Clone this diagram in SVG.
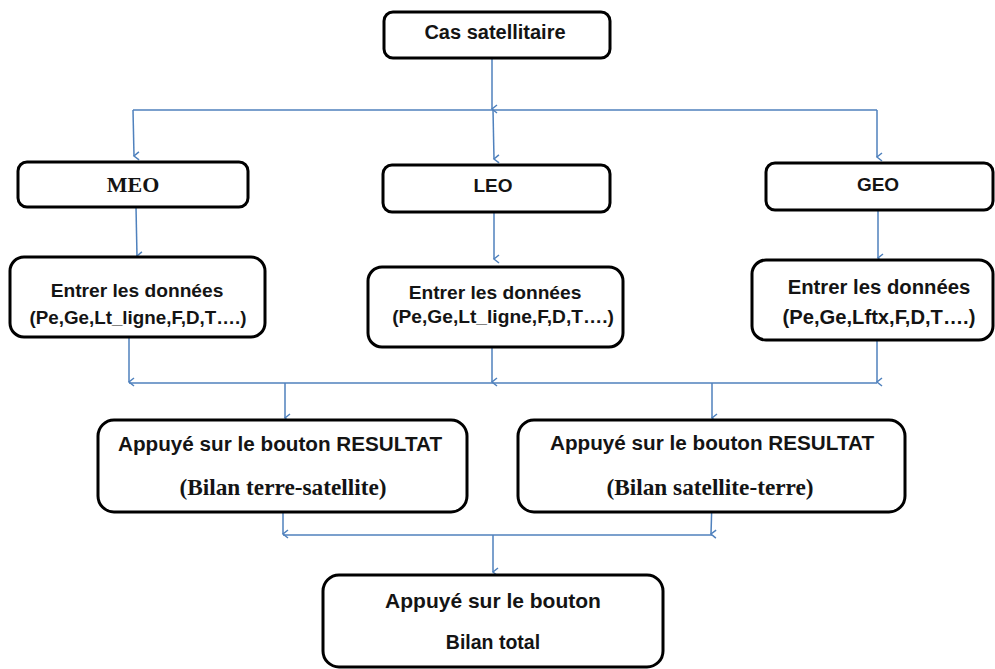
<svg xmlns="http://www.w3.org/2000/svg" width="995" height="669" viewBox="0 0 995 669">
  <defs>
    <marker id="arr" markerWidth="10" markerHeight="10" refX="5" refY="8" orient="auto-start-reverse" markerUnits="userSpaceOnUse" viewBox="0 0 10 10">
      <path d="M1,3 L5,8 L9,3" fill="none" stroke="#4F81BD" stroke-width="1.5"/>
    </marker>
  </defs>
  <style>
    .box { fill: #ffffff; stroke: #000000; stroke-width: 3; }
    .sans { font-family: "Liberation Sans", Arial, sans-serif; font-weight: bold; fill: #141414; text-anchor: middle; }
    .serif { font-family: "Liberation Serif", "Times New Roman", serif; font-weight: bold; fill: #141414; text-anchor: middle; }
    .link { fill: none; stroke: #4F81BD; stroke-width: 1.5; }
    .arrow { marker-end: url(#arr); }
  </style>
  <rect width="995" height="669" fill="#ffffff"/>

  <g id="connectors">
    <line class="link arrow" x1="492" y1="58" x2="492" y2="109"/>
    <line class="link" x1="133" y1="110" x2="877" y2="110"/>
    <line class="link arrow" x1="133" y1="110" x2="134" y2="156"/>
    <line class="link arrow" x1="493" y1="110" x2="494" y2="159"/>
    <line class="link arrow" x1="877" y1="110" x2="877" y2="157"/>

    <line class="link arrow" x1="136" y1="207" x2="137" y2="256"/>
    <line class="link arrow" x1="494" y1="212" x2="494" y2="259"/>
    <line class="link arrow" x1="878" y1="210" x2="878" y2="258"/>

    <line class="link arrow" x1="129" y1="337" x2="129" y2="382"/>
    <line class="link arrow" x1="492" y1="347" x2="492" y2="382"/>
    <line class="link arrow" x1="877" y1="340" x2="877" y2="382"/>
    <line class="link" x1="129" y1="383" x2="877" y2="383"/>
    <line class="link arrow" x1="285" y1="383" x2="285" y2="418"/>
    <line class="link arrow" x1="712" y1="383" x2="712" y2="418"/>

    <line class="link arrow" x1="283" y1="500" x2="283" y2="534"/>
    <line class="link arrow" x1="712" y1="500" x2="711" y2="534"/>
    <line class="link" x1="283" y1="535" x2="712" y2="535"/>
    <line class="link arrow" x1="493" y1="535" x2="493" y2="572"/>
  </g>

  <g id="cas-satellitaire">
    <rect class="box" x="384" y="12" width="226" height="46" rx="9"/>
    <text class="sans" x="495" y="39" font-size="20">Cas satellitaire</text>
  </g>

  <g id="meo">
    <rect class="box" x="18" y="162" width="230" height="45" rx="9"/>
    <text class="serif" x="133" y="192" font-size="22">MEO</text>
  </g>

  <g id="leo">
    <rect class="box" x="383" y="165" width="227" height="47" rx="9"/>
    <text class="sans" x="493" y="192" font-size="19">LEO</text>
  </g>

  <g id="geo">
    <rect class="box" x="766" y="163" width="227" height="47" rx="9"/>
    <text class="sans" x="878" y="191" font-size="19">GEO</text>
  </g>

  <g id="donnees-meo">
    <rect class="box" x="10" y="257" width="255" height="80" rx="14"/>
    <text class="sans" x="137" y="297" font-size="19.2">Entrer les données</text>
    <text class="sans" x="138" y="324" font-size="18.8">(Pe,Ge,Lt_ligne,F,D,T….)</text>
  </g>

  <g id="donnees-leo">
    <rect class="box" x="368" y="267" width="255" height="80" rx="14"/>
    <text class="sans" x="495" y="299" font-size="19.2">Entrer les données</text>
    <text class="sans" x="503" y="323" font-size="19.2">(Pe,Ge,Lt_ligne,F,D,T….)</text>
  </g>

  <g id="donnees-geo">
    <rect class="box" x="752" y="260" width="241" height="80" rx="14"/>
    <text class="sans" x="879" y="294" font-size="20.3">Entrer les données</text>
    <text class="sans" x="879" y="324" font-size="20.2">(Pe,Ge,Lftx,F,D,T….)</text>
  </g>

  <g id="resultat-terre-satellite">
    <rect class="box" x="98" y="420" width="369" height="92" rx="16"/>
    <text class="sans" x="280" y="451" font-size="20.7">Appuyé sur le bouton RESULTAT</text>
    <text class="serif" x="283" y="495" font-size="23.3">(Bilan terre-satellite)</text>
  </g>

  <g id="resultat-satellite-terre">
    <rect class="box" x="518" y="420" width="387" height="92" rx="16"/>
    <text class="sans" x="712" y="450" font-size="20.7">Appuyé sur le bouton RESULTAT</text>
    <text class="serif" x="710" y="495" font-size="23.3">(Bilan satellite-terre)</text>
  </g>

  <g id="bilan-total">
    <rect class="box" x="323" y="575" width="340" height="92" rx="16"/>
    <text class="sans" x="493" y="608" font-size="21">Appuyé sur le bouton</text>
    <text class="sans" x="493" y="649" font-size="19.5">Bilan total</text>
  </g>
</svg>
